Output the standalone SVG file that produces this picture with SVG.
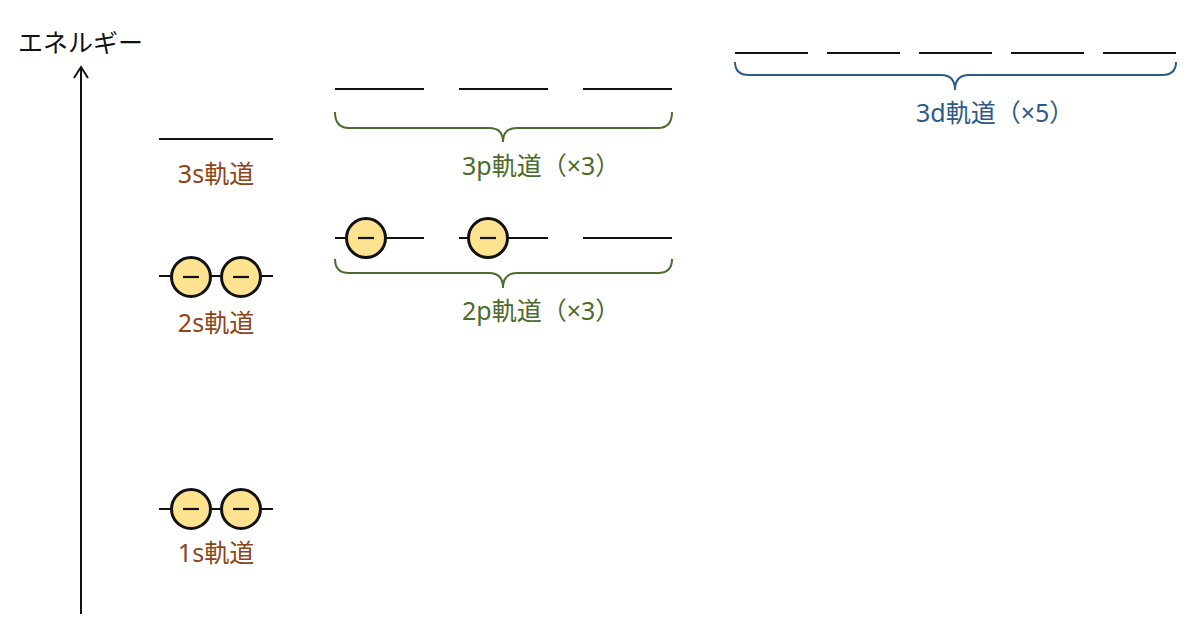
<svg xmlns="http://www.w3.org/2000/svg" width="1200" height="637" viewBox="0 0 1200 637">
<defs>
<style>
text{font-family:"Noto Sans","Noto Sans CJK JP",sans-serif;font-size:25px}
.lvl{stroke:#111;stroke-width:2;fill:none}
.e{fill:#fde28f;stroke:#111;stroke-width:3}
.m{stroke:#111;stroke-width:2.2}
.s{fill:#8e4519;text-anchor:middle}
.p{fill:#4c6b2c}
.d{fill:#2e5a88}
.bp{fill:none;stroke:#4c6b2c;stroke-width:2}
.bd{fill:none;stroke:#2e5a88;stroke-width:2}
</style>
<g id="electron">
<circle class="e" cx="0" cy="0" r="19.5"/>
<line class="m" x1="-8" y1="0" x2="8" y2="0"/>
</g>
</defs>
<rect width="1200" height="637" fill="#fff"/>
<g id="axis">
<line x1="81" y1="614" x2="81" y2="68" stroke="#111" stroke-width="2"/>
<polyline points="74,78 81,67 88,78" fill="none" stroke="#111" stroke-width="2"/>
<text x="18" y="52" fill="#111">エネルギー</text>
</g>
<g id="orbital-3s">
<line class="lvl" x1="159" y1="139" x2="273" y2="139"/>
<text class="s" x="216" y="183">3s軌道</text>
</g>
<g id="orbital-2s">
<line class="lvl" x1="159" y1="276" x2="273" y2="276"/>
<use href="#electron" x="191" y="277"/>
<use href="#electron" x="241" y="277"/>
<text class="s" x="216" y="332">2s軌道</text>
</g>
<g id="orbital-1s">
<line class="lvl" x1="159" y1="509" x2="273" y2="509"/>
<use href="#electron" x="191" y="509"/>
<use href="#electron" x="241" y="509"/>
<text class="s" x="216" y="562">1s軌道</text>
</g>
<g id="orbital-2p">
<line class="lvl" x1="335" y1="238" x2="424" y2="238"/>
<line class="lvl" x1="459" y1="238" x2="548" y2="238"/>
<line class="lvl" x1="583" y1="238" x2="672" y2="238"/>
<use href="#electron" x="366" y="238"/>
<use href="#electron" x="488" y="238"/>
<path class="bp" d="M335,259 Q335,273 349,273 L489,273 Q503,273 503,288 Q503,273 517,273 L658,273 Q672,273 672,259"/>
<text class="p" x="462" y="320">2p軌道（×3）</text>
</g>
<g id="orbital-3p">
<line class="lvl" x1="335" y1="89" x2="424" y2="89"/>
<line class="lvl" x1="459" y1="89" x2="548" y2="89"/>
<line class="lvl" x1="583" y1="89" x2="672" y2="89"/>
<path class="bp" d="M335,112 Q335,128 349,128 L489,128 Q503,128 503,142 Q503,128 517,128 L658,128 Q672,128 672,112"/>
<text class="p" x="462" y="175">3p軌道（×3）</text>
</g>
<g id="orbital-3d">
<line class="lvl" x1="735" y1="53" x2="808" y2="53"/>
<line class="lvl" x1="827" y1="53" x2="900" y2="53"/>
<line class="lvl" x1="919" y1="53" x2="992" y2="53"/>
<line class="lvl" x1="1011" y1="53" x2="1084" y2="53"/>
<line class="lvl" x1="1103" y1="53" x2="1176" y2="53"/>
<path class="bd" d="M735,62 Q735,75 749,75 L941,75 Q955,75 955,90 Q955,75 969,75 L1162,75 Q1176,75 1176,62"/>
<text class="d" x="916" y="122">3d軌道（×5）</text>
</g>
<g id="connectors"></g>
</svg>
